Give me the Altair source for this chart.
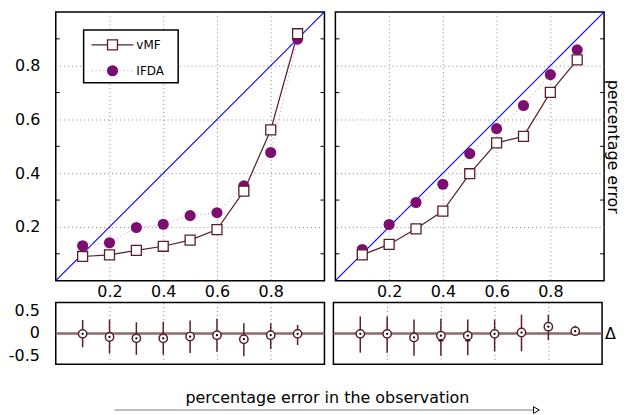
import altair as alt
import pandas as pd

# ---------------- data ----------------
x_vals = [0.1, 0.2, 0.3, 0.4, 0.5, 0.6, 0.7, 0.8, 0.9]

vmf_left = [0.090, 0.096, 0.113, 0.128, 0.151, 0.190, 0.333, 0.561, 0.919]
ifda_left = [0.130, 0.141, 0.198, 0.210, 0.242, 0.253, 0.353, 0.477, 0.899]
vmf_right = [0.096, 0.135, 0.193, 0.259, 0.398, 0.513, 0.537, 0.701, 0.822]
ifda_right = [0.116, 0.209, 0.291, 0.359, 0.473, 0.566, 0.652, 0.767, 0.859]

delta_left = [-0.01, -0.08, -0.11, -0.11, -0.07, -0.04, -0.13, -0.04, -0.01]
err_hi_left = [0.30, 0.31, 0.25, 0.26, 0.29, 0.33, 0.23, 0.23, 0.19]
err_lo_left = [-0.31, -0.45, -0.48, -0.48, -0.44, -0.41, -0.51, -0.35, -0.26]

delta_right = [-0.01, -0.01, -0.09, -0.05, -0.05, -0.01, 0.02, 0.15, 0.05]
err_hi_right = [0.38, 0.38, 0.31, 0.33, 0.31, 0.31, 0.42, 0.42, 0.17]
err_lo_right = [-0.43, -0.43, -0.50, -0.50, -0.49, -0.40, -0.40, -0.15, -0.03]
inner_lo_right = [-0.10, -0.09, -0.15, -0.18, -0.18, -0.09, -0.07, 0.15, 0.05]

major_ticks = [0.2, 0.4, 0.6, 0.8]
minor_ticks = [0.1, 0.3, 0.5, 0.7, 0.9]
diag = [0.0, 1.0]
delta_ticks = [-0.5, 0.0, 0.5]
delta_labels = ["-0.5", "0", "0.5"]

series_names = ["vMF", "IFDA"]
x_title = "percentage error in the observation"
y_title = "percentage error"
delta_title = "Δ"

# ---------------- styles ----------------
FONT = "DejaVu Sans"
MAROON = "#5a1e2a"
PURPLE = "#7b0e6e"
PINK = "#d98fcf"
BLUE = "#0000ff"
GRID = "#8a8a8a"
PW, PH = 270, 270
BH = 62

top_df = {
    "left": pd.DataFrame({"x": x_vals, "vmf": vmf_left, "ifda": ifda_left}),
    "right": pd.DataFrame({"x": x_vals, "vmf": vmf_right, "ifda": ifda_right}),
}
diag_df = pd.DataFrame({"x": diag, "y": diag})
minor_df = pd.DataFrame({"y": minor_ticks})


def top_panel(side):
    df = top_df[side]
    xs = alt.Scale(domain=[0, 1], nice=False, zero=False)
    ys = alt.Scale(domain=[0, 1], nice=False, zero=False)
    x_axis = alt.Axis(values=major_ticks, title=None, grid=True, gridDash=[1, 3],
                      gridColor=GRID, ticks=False, domain=False, labelFontSize=16,
                      labelPadding=3, format=".1f", labelFlush=False)
    if side == "left":
        y_axis = alt.Axis(values=major_ticks, title=None, grid=True, gridDash=[1, 3],
                          gridColor=GRID, ticks=False, domain=False, labelFontSize=16,
                          labelPadding=16, format=".1f", minExtent=46, maxExtent=46,
                          labelOverlap=False)
    else:
        y_axis = alt.Axis(values=major_ticks, orient="right", title=y_title, grid=True,
                          gridDash=[1, 3], gridColor=GRID, ticks=False, domain=False,
                          labels=False, titleAngle=90, titleFontSize=16,
                          titleFontWeight="normal", titlePadding=0, titleColor="black")
    X = alt.X("x:Q", scale=xs, axis=x_axis)

    diag_l = alt.Chart(diag_df).mark_line(color=BLUE, strokeWidth=1.1).encode(
        x=X, y=alt.Y("y:Q", scale=ys, axis=y_axis))
    minor_l = alt.Chart(minor_df).mark_rule(color="black", strokeWidth=1).encode(
        y=alt.Y("y:Q", scale=ys), x=alt.value(0), x2=alt.value(4))
    minor_r = alt.Chart(minor_df).mark_rule(color="black", strokeWidth=1).encode(
        y=alt.Y("y:Q", scale=ys), x=alt.value(PW - 4), x2=alt.value(PW))
    ifda_line = alt.Chart(df).mark_line(color=PINK, strokeWidth=1, strokeDash=[1, 3]).encode(
        x=X, y=alt.Y("ifda:Q", scale=ys))
    vmf_line = alt.Chart(df).mark_line(color=MAROON, strokeWidth=1.2).encode(
        x=X, y=alt.Y("vmf:Q", scale=ys))
    ifda_pts = alt.Chart(df).mark_point(shape="circle", filled=True, color=PURPLE,
                                         size=125, opacity=1).encode(
        x=X, y=alt.Y("ifda:Q", scale=ys))
    vmf_pts = alt.Chart(df).mark_point(shape="square", filled=True, fill="white",
                                        stroke=MAROON, strokeWidth=1.3, size=100,
                                        opacity=1).encode(
        x=X, y=alt.Y("vmf:Q", scale=ys))
    layers = [diag_l, minor_l, minor_r, ifda_line, vmf_line, ifda_pts, vmf_pts]
    if side == "left":
        leg = pd.DataFrame({"name": [series_names[0]]})
        leg2 = pd.DataFrame({"name": [series_names[1]]})
        box = alt.Chart(leg).mark_rect(fill="white", stroke="black", strokeWidth=1.5).encode(
            x=alt.value(28), x2=alt.value(123), y=alt.value(18), y2=alt.value(71))
        l1 = alt.Chart(leg).mark_rule(color=MAROON, strokeWidth=1.2).encode(
            x=alt.value(36), x2=alt.value(78), y=alt.value(33))
        p1 = alt.Chart(leg).mark_point(shape="square", filled=True, fill="white", stroke=MAROON,
                                       strokeWidth=1.3, size=100, opacity=1).encode(
            x=alt.value(57), y=alt.value(33))
        t1 = alt.Chart(leg).mark_text(align="left", baseline="middle", fontSize=12,
                                      font=FONT, color="black").encode(
            x=alt.value(81), y=alt.value(33), text="name:N")
        l2 = alt.Chart(leg2).mark_rule(color=PINK, strokeWidth=1, strokeDash=[1, 3]).encode(
            x=alt.value(36), x2=alt.value(78), y=alt.value(59))
        p2 = alt.Chart(leg2).mark_point(shape="circle", filled=True, color=PURPLE, size=125,
                                        opacity=1).encode(
            x=alt.value(57), y=alt.value(59))
        t2 = alt.Chart(leg2).mark_text(align="left", baseline="middle", fontSize=12,
                                       font=FONT, color="black").encode(
            x=alt.value(81), y=alt.value(59), text="name:N")
        layers += [box, l1, p1, t1, l2, p2, t2]
    return alt.layer(*layers).properties(width=PW, height=PH)


def bottom_panel(side):
    if side == "left":
        df = pd.DataFrame({"x": x_vals, "d": delta_left, "hi": err_hi_left, "lo": err_lo_left})
    else:
        df = pd.DataFrame({"x": x_vals, "d": delta_right, "hi": err_hi_right,
                           "lo": err_lo_right, "ilo": inner_lo_right})
    xs = alt.Scale(domain=[0, 1], nice=False, zero=False)
    ys = alt.Scale(domain=[-0.69, 0.69], nice=False, zero=False)
    x_axis = alt.Axis(values=major_ticks, title=None, grid=True, gridDash=[1, 3],
                      gridColor=GRID, ticks=False, domain=False, labels=False)
    if side == "left":
        y_axis = None
    else:
        y_axis = alt.Axis(values=delta_ticks, orient="right", title=delta_title, grid=False,
                          ticks=False, domain=False, labels=False, titleAngle=0,
                          titleFontSize=16, titleFontWeight="normal", titlePadding=8,
                          titleColor="black", titleBaseline="middle")
    X = alt.X("x:Q", scale=xs, axis=x_axis)
    zero_df = pd.DataFrame({"z": [0.0]})
    zero = alt.Chart(zero_df).mark_rule(color="#8c6a6e", strokeWidth=2.5).encode(
        y=alt.Y("z:Q", scale=ys, axis=y_axis))
    bars = alt.Chart(df).mark_rule(color=MAROON, strokeWidth=1.5).encode(
        x=X, y=alt.Y("lo:Q", scale=ys), y2="hi:Q")
    layers = [zero, bars]
    if side == "left":
        lab_df = pd.DataFrame({"v": delta_ticks, "lab": delta_labels})
        labs = alt.Chart(lab_df).mark_text(align="right", baseline="middle", fontSize=16,
                                           font=FONT, color="black").encode(
            y=alt.Y("v:Q", scale=ys), x=alt.value(-16), text="lab:N")
        layers.append(labs)
    if side == "right":
        inner = alt.Chart(df).mark_rule(color="#4a0f1a", strokeWidth=5).encode(
            x=X, y=alt.Y("d:Q", scale=ys), y2="ilo:Q")
        layers.append(inner)
    circ = alt.Chart(df).mark_point(shape="circle", filled=True, fill="white", stroke=MAROON,
                                    strokeWidth=1.5, size=70, opacity=1).encode(
        x=X, y=alt.Y("d:Q", scale=ys))
    dot = alt.Chart(df).mark_point(shape="circle", filled=True, color="black", size=5,
                                   opacity=1).encode(
        x=X, y=alt.Y("d:Q", scale=ys))
    layers += [circ, dot]
    return alt.layer(*layers).properties(width=PW, height=BH)


footer_df = pd.DataFrame({"t": [x_title]})
footer_text = alt.Chart(footer_df).mark_text(fontSize=16, font=FONT, color="black",
                                             baseline="middle").encode(
    x=alt.value(273), y=alt.value(31), text="t:N")
footer_line = alt.Chart(footer_df).mark_rule(color="#a8a8a8", strokeWidth=1.5).encode(
    x=alt.value(59), x2=alt.value(480), y=alt.value(43))
footer_head = alt.Chart(footer_df).mark_point(shape="triangle-right", filled=True, fill="white",
                                              stroke="black", strokeWidth=1, size=45,
                                              opacity=1).encode(
    x=alt.value(483), y=alt.value(43))
footer = alt.layer(footer_text, footer_line, footer_head).properties(
    width=500, height=46, view=alt.ViewBackground(stroke="transparent"))

top = alt.hconcat(top_panel("left"), top_panel("right"), spacing=5)
bottom = alt.hconcat(bottom_panel("left"), bottom_panel("right"), spacing=5)

chart = alt.vconcat(top, bottom, footer, spacing=1).properties(
    padding=0,
    background="white",
).configure_view(stroke="black", strokeWidth=1.5).configure_axis(
    labelFont=FONT, titleFont=FONT, labelColor="black", titleColor="black"
)

chart.save("out.html", embed_options={"renderer": "svg", "actions": False})
